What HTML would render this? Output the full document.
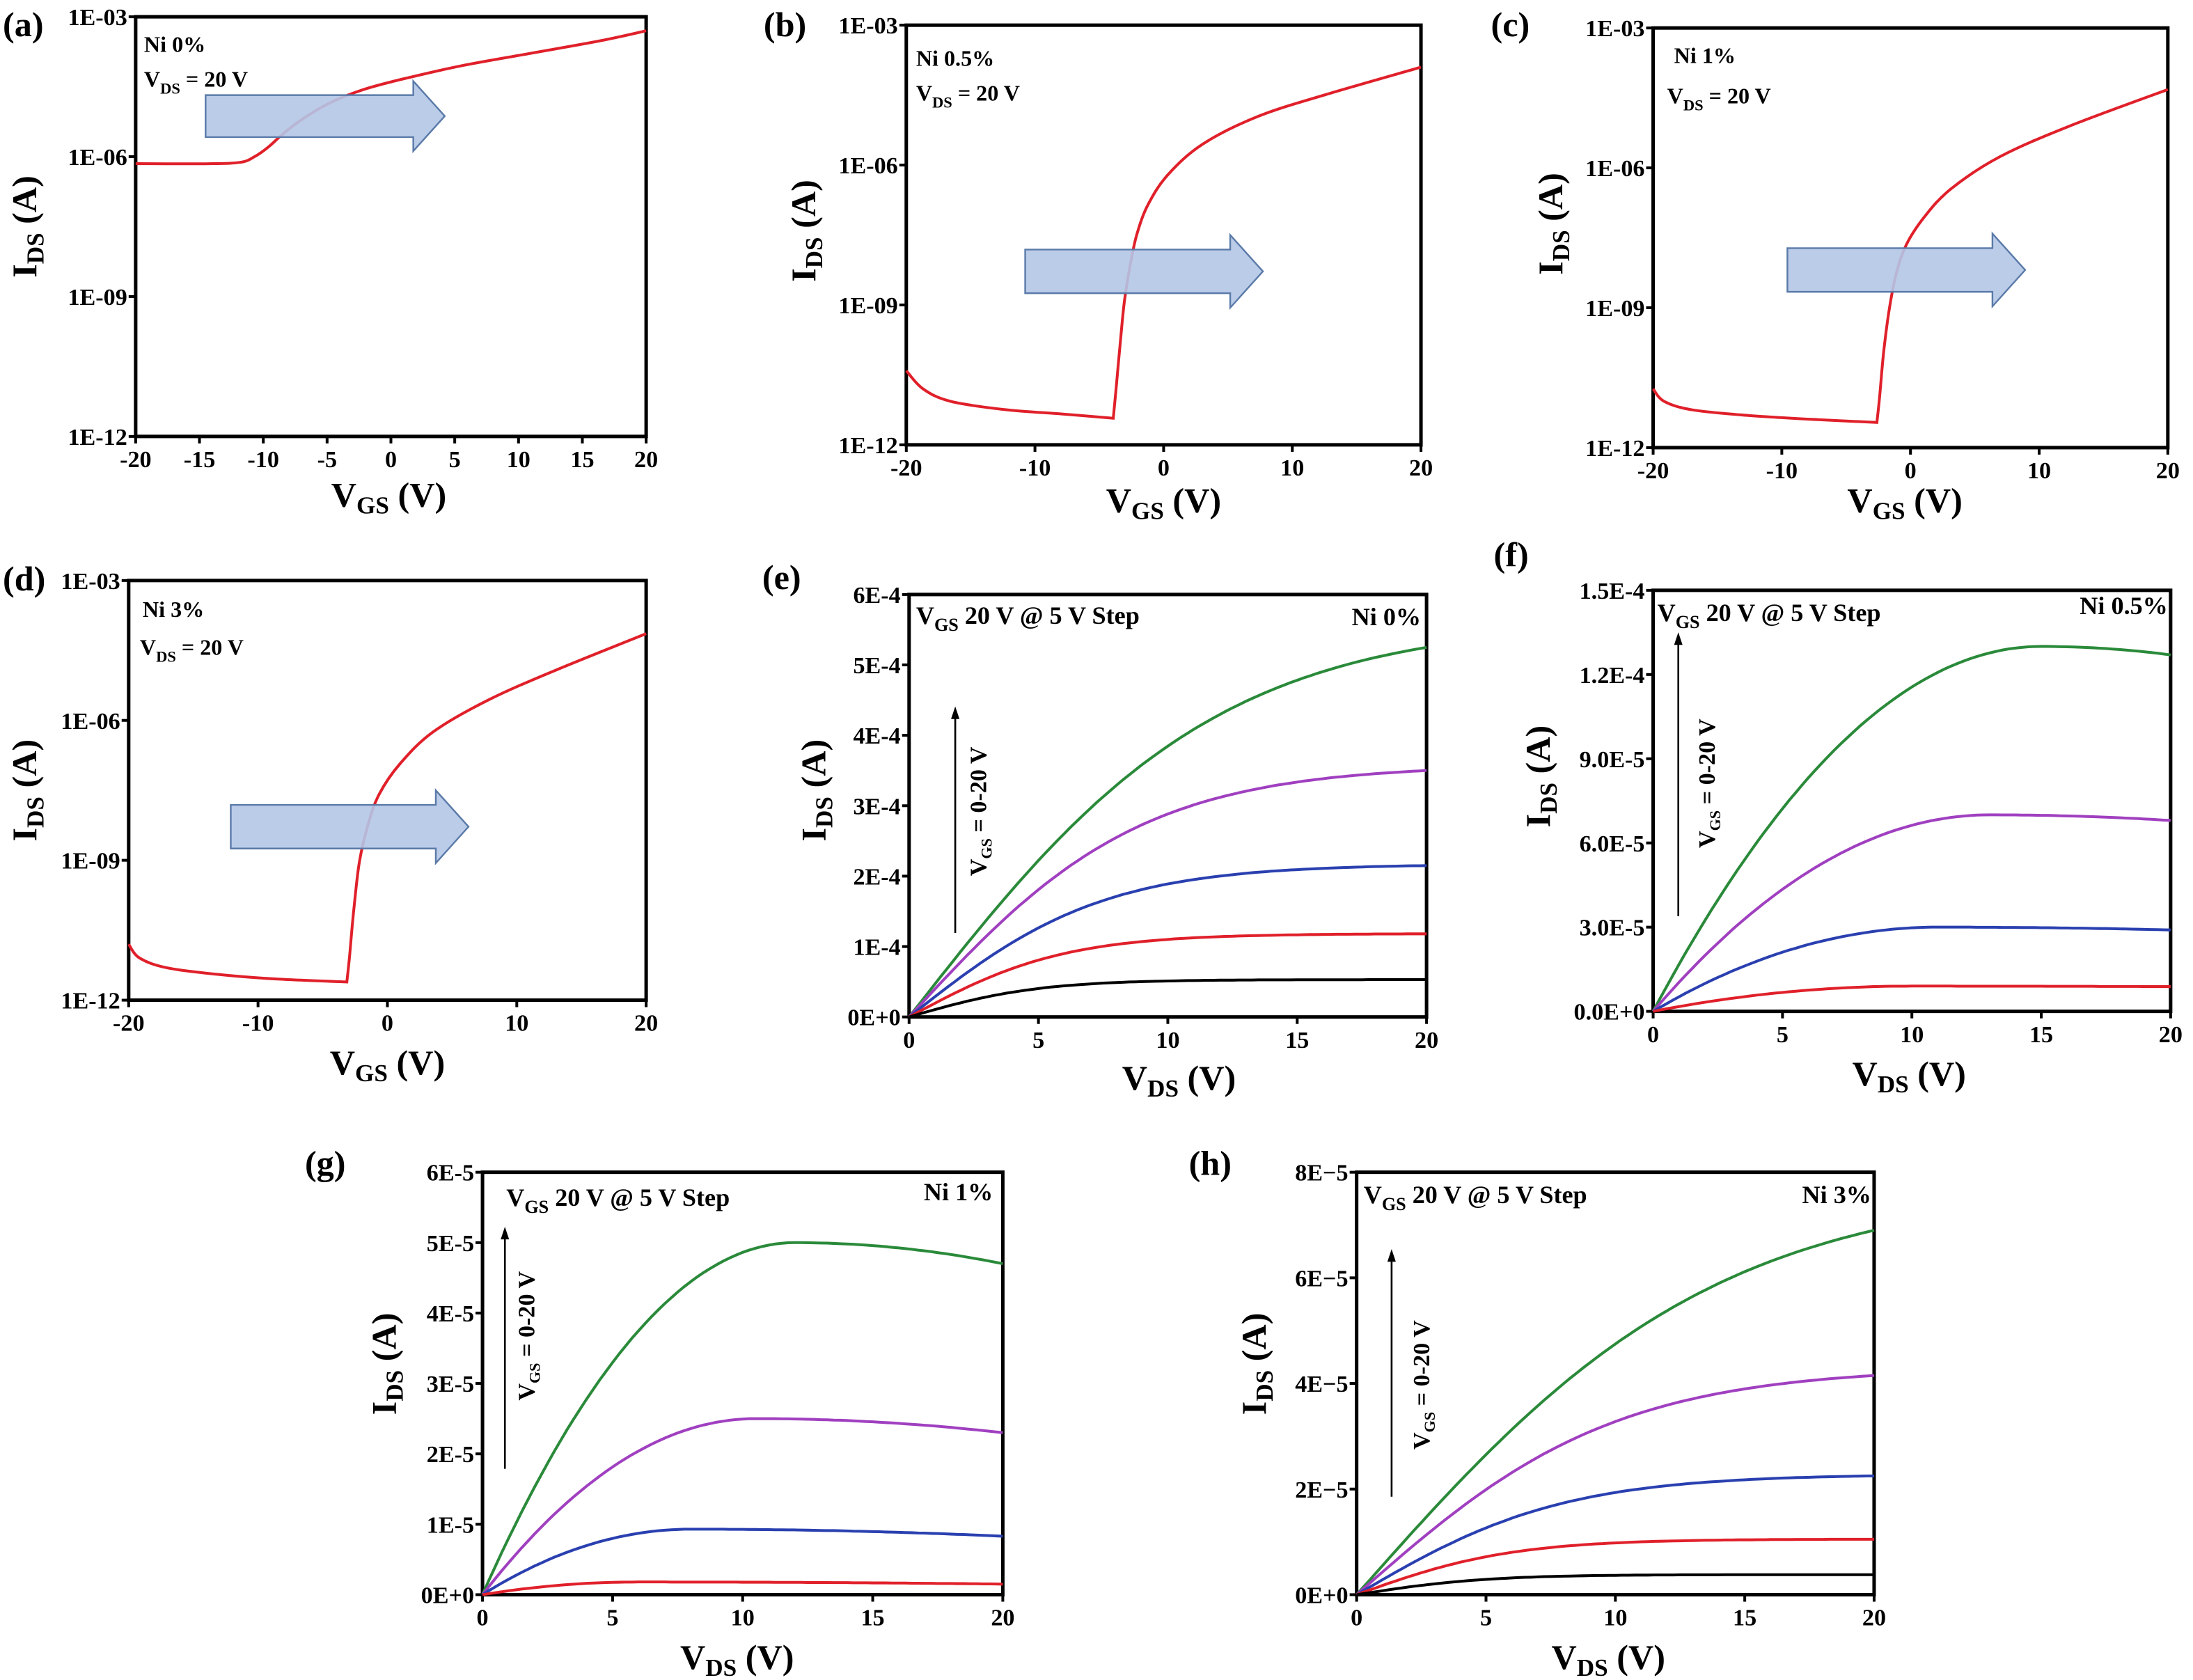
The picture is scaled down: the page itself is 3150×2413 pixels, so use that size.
<!DOCTYPE html>
<html><head><meta charset="utf-8"><style>
html,body{margin:0;padding:0;background:#fff;}
svg{display:block;}
text{font-family:"Liberation Serif","DejaVu Serif",serif !important;font-weight:bold;fill:#000;}
</style></head><body>
<svg id="s" xmlns="http://www.w3.org/2000/svg" width="3150" height="2413" viewBox="0 0 1568 1201" preserveAspectRatio="none" font-family="Liberation Serif, serif">
<g id="g"></g>
</svg>
<script>
var NS="http://www.w3.org/2000/svg",G=document.getElementById('g');
function el(t,a,p){var e=document.createElementNS(NS,t);for(var k in a)e.setAttribute(k,a[k]);(p||G).appendChild(e);return e;}
function tx(x,y,s,size,anchor,rot){var e=el('text',{x:x,y:y,'font-size':size,'text-anchor':anchor||'start','font-family':'Liberation Serif, serif','font-weight':'bold'});if(rot)e.setAttribute('transform','rotate(-90 '+x+' '+y+')');e.innerHTML=s;return e;}
function sub(a,b,c,fs){return a+'<tspan dy="5" font-size="'+(fs*0.7)+'">'+b+'</tspan><tspan dy="-5">'+c+'</tspan>';}
function catmull(pts){var d='M'+pts[0][0]+','+pts[0][1];for(var i=0;i<pts.length-1;i++){var p0=pts[Math.max(0,i-1)],p1=pts[i],p2=pts[i+1],p3=pts[Math.min(pts.length-1,i+2)];var c1=[p1[0]+(p2[0]-p0[0])/6,p1[1]+(p2[1]-p0[1])/6],c2=[p2[0]-(p3[0]-p1[0])/6,p2[1]-(p3[1]-p1[1])/6];d+=' C'+c1[0].toFixed(1)+','+c1[1].toFixed(1)+' '+c2[0].toFixed(1)+','+c2[1].toFixed(1)+' '+p2[0]+','+p2[1];}return d;}
function box(x0,y0,x1,y1,xt,yt){
 el('rect',{x:x0,y:y0,width:x1-x0,height:y1-y0,fill:'none',stroke:'#000','stroke-width':2.5});
 xt.forEach(function(t){var x=x0+(x1-x0)*t[0];el('line',{x1:x,y1:y1,x2:x,y2:y1+5,stroke:'#000','stroke-width':2});tx(x,y1+22,t[1],17,'middle');});
 yt.forEach(function(t){var y=y1-(y1-y0)*t[0];el('line',{x1:x0,y1:y,x2:x0-5,y2:y,stroke:'#000','stroke-width':2});tx(x0-6,y+6,t[1],17,'end');});
}
function arrow(x0,y0,x1,y1){var h=y1-y0,m=(y0+y1)/2,bh=h*0.3,hx=x1-h*0.45;
 el('polygon',{points:[x0,m-bh,hx,m-bh,hx,y0,x1,m,hx,y1,hx,m+bh,x0,m+bh].join(','),fill:'#b4c7e7',stroke:'#5a7aa8','stroke-width':1.2,'fill-opacity':0.9});}
function vArrow(x,ybot,ytop,tx0,ty0){el('line',{x1:x,y1:ybot,x2:x,y2:ytop+8,stroke:'#000','stroke-width':1.3});el('polygon',{points:[x-3,ytop+9,x+3,ytop+9,x,ytop].join(','),fill:'#000'});
 var e=el('text',{x:tx0,y:ty0,'font-size':17,'text-anchor':'middle','font-family':'Liberation Serif, serif','font-weight':'bold',transform:'rotate(-90 '+tx0+' '+ty0+')'});e.innerHTML='V<tspan dy="4" font-size="11">GS</tspan><tspan dy="-4"> = 0-20 V</tspan>';}
var logT=[[1,'1E-03'],[2/3,'1E-06'],[1/3,'1E-09'],[0,'1E-12']];
function logPanel(L,x0,y0,x1,y1,xt,pts,ar,lab,ni,vds,ytl,xtl,split){
 box(x0,y0,x1,y1,xt,logT);
 var d=split?catmull(pts.slice(0,split+1))+' '+catmull(pts.slice(split)).replace('M','L'):catmull(pts);
 el('path',{d:d,fill:'none',stroke:'#e0202a','stroke-width':2});
 arrow(ar[0],ar[1],ar[2],ar[3]);
 tx(lab[0],lab[1],L,25);
 tx(ni[0],ni[1],ni[2],16);
 tx(vds[0],vds[1],sub('V','DS',' = 20 V',16),16);
 tx(ytl[0],ytl[1],sub('I','DS',' (A)',25),25,'middle',true);
 tx(xtl[0],xtl[1],sub('V','GS',' (V)',25),25,'middle');
}
var x9=[[0,'-20'],[.25,'-10'],[.5,'0'],[.75,'10'],[1,'20']];
var xa=[];for(var i=0;i<=8;i++)xa.push([i/8,String(-20+5*i)]);
logPanel('(a)',97,12,462,312,xa,[[97,117],[150,117],[172,116],[182,112],[192,105],[202,96],[215,86],[235,74],[260,64],[290,56],[330,47],[380,38],[430,29],[462,22]],[147,58,318,108],[2,26],[103,37,'Ni 0%'],[103,62],[26,162],[278,362]);
logPanel('(b)',648,18,1016,318,x9,[[648,265],[660,278],[680,287],[720,293],[760,296],[796,299],[798,278],[801,245],[804,215],[808,190],[813,167],[821,146],[835,125],[860,103],[900,83],[950,67],[1016,48]],[733,168,903,220],[546,26],[655,47,'Ni 0.5%'],[655,72],[583,165],[832,366],5);
logPanel('(c)',1182,20,1550,320,x9,[[1182,278],[1190,287],[1210,293],[1250,297],[1300,300],[1342,302],[1344,283],[1347,250],[1351,220],[1356,195],[1363,175],[1376,155],[1395,135],[1430,112],[1480,90],[1550,64]],[1278,167,1448,219],[1066,26],[1197,45,'Ni 1%'],[1192,74],[1117,160],[1362,366],5);
logPanel('(d)',92,415,462,715,x9,[[92,675],[100,685],[120,692],[160,697],[200,700],[248,702],[250,683],[253,650],[257,616],[263,590],[271,568],[286,546],[310,523],[350,500],[400,478],[462,453]],[165,565,335,617],[2,422],[102,441,'Ni 3%'],[100,468],[26,565],[277,768],5);
var cols=['#2a8a3a','#a040c0','#2a40b0','#e0202a','#000'];
function outPanel(L,x0,y0,x1,y1,yt,ymax,fns,lab,step,ni,va,ytl,xtl){
 var xt=[[0,'0'],[.25,'5'],[.5,'10'],[.75,'15'],[1,'20']];
 box(x0,y0,x1,y1,xt,yt);
 fns.forEach(function(f,k){var d='';for(var v=0;v<=20.001;v+=0.25){var x=x0+(x1-x0)*v/20,y=y1-(y1-y0)*f(v)/ymax;d+=(v==0?'M':' L')+x.toFixed(1)+','+y.toFixed(1);}el('path',{d:d,fill:'none',stroke:cols[k],'stroke-width':2});});
 tx(lab[0],lab[1],L,25);
 tx(step[0],step[1],'V<tspan dy="5" font-size="13">GS</tspan><tspan dy="-5"> 20 V  @ 5 V Step</tspan>',18);
 tx(ni[0],ni[1],ni[2],18,'end');
 vArrow(va[0],va[1],va[2],va[3],va[4]);
 tx(ytl[0],ytl[1],sub('I','DS',' (A)',25),25,'middle',true);
 tx(xtl[0],xtl[1],sub('V','DS',' (V)',25),25,'middle');
}
function th(I,v0){var s=I/Math.tanh(20/v0);return function(v){return s*Math.tanh(v/v0);};}
function pk(Ip,Vp,Iend){return function(v){if(v<Vp){var u=v/Vp;return Ip*(2*u-u*u);}var t=(v-Vp)/(20-Vp);return Ip-(Ip-Iend)*t*t;};}
outPanel('(e)',650,425,1020,727,[[0,'0E+0'],[1/6,'1E-4'],[2/6,'2E-4'],[3/6,'3E-4'],[4/6,'4E-4'],[5/6,'5E-4'],[1,'6E-4']],6e-4,
 [th(5.25e-4,12),th(3.5e-4,9),th(2.15e-4,7.5),th(1.18e-4,6),th(0.53e-4,5)],[545,421],[655,446],[1016,447,'Ni 0%'],[683,667,505,705,580],[590,565],[843,779]);
outPanel('(f)',1182,422,1552,723,[[0,'0.0E+0'],[.2,'3.0E-5'],[.4,'6.0E-5'],[.6,'9.0E-5'],[.8,'1.2E-4'],[1,'1.5E-4']],1.5e-4,
 [pk(1.3e-4,15,1.27e-4),pk(7e-5,13,6.8e-5),pk(3e-5,11,2.9e-5),pk(0.9e-5,10,0.88e-5)],[1068,405],[1185,444],[1550,439,'Ni 0.5%'],[1200,655,452,1226,560],[1108,555],[1365,776]);
outPanel('(g)',345,838,717,1140,[[0,'0E+0'],[1/6,'1E-5'],[2/6,'2E-5'],[3/6,'3E-5'],[4/6,'4E-5'],[5/6,'5E-5'],[1,'6E-5']],6e-5,
 [pk(5e-5,12,4.7e-5),pk(2.5e-5,10.5,2.3e-5),pk(0.93e-5,8,0.83e-5),pk(0.18e-5,6,0.15e-5)],[218,840],[362,862],[710,858,'Ni 1%'],[361,1050,877,382,955],[283,975],[527,1193]);
outPanel('(h)',970,838,1340,1140,[[0,'0E+0'],[.25,'2E\u22125'],[.5,'4E\u22125'],[.75,'6E\u22125'],[1,'8E\u22125']],8e-5,
 [th(6.9e-5,14),th(4.15e-5,10),th(2.25e-5,8),th(1.05e-5,6),th(0.38e-5,5)],[850,840],[975,860],[1338,860,'Ni 3%'],[995,1070,893,1022,990],[905,975],[1150,1193]);
</script>
</body></html>
